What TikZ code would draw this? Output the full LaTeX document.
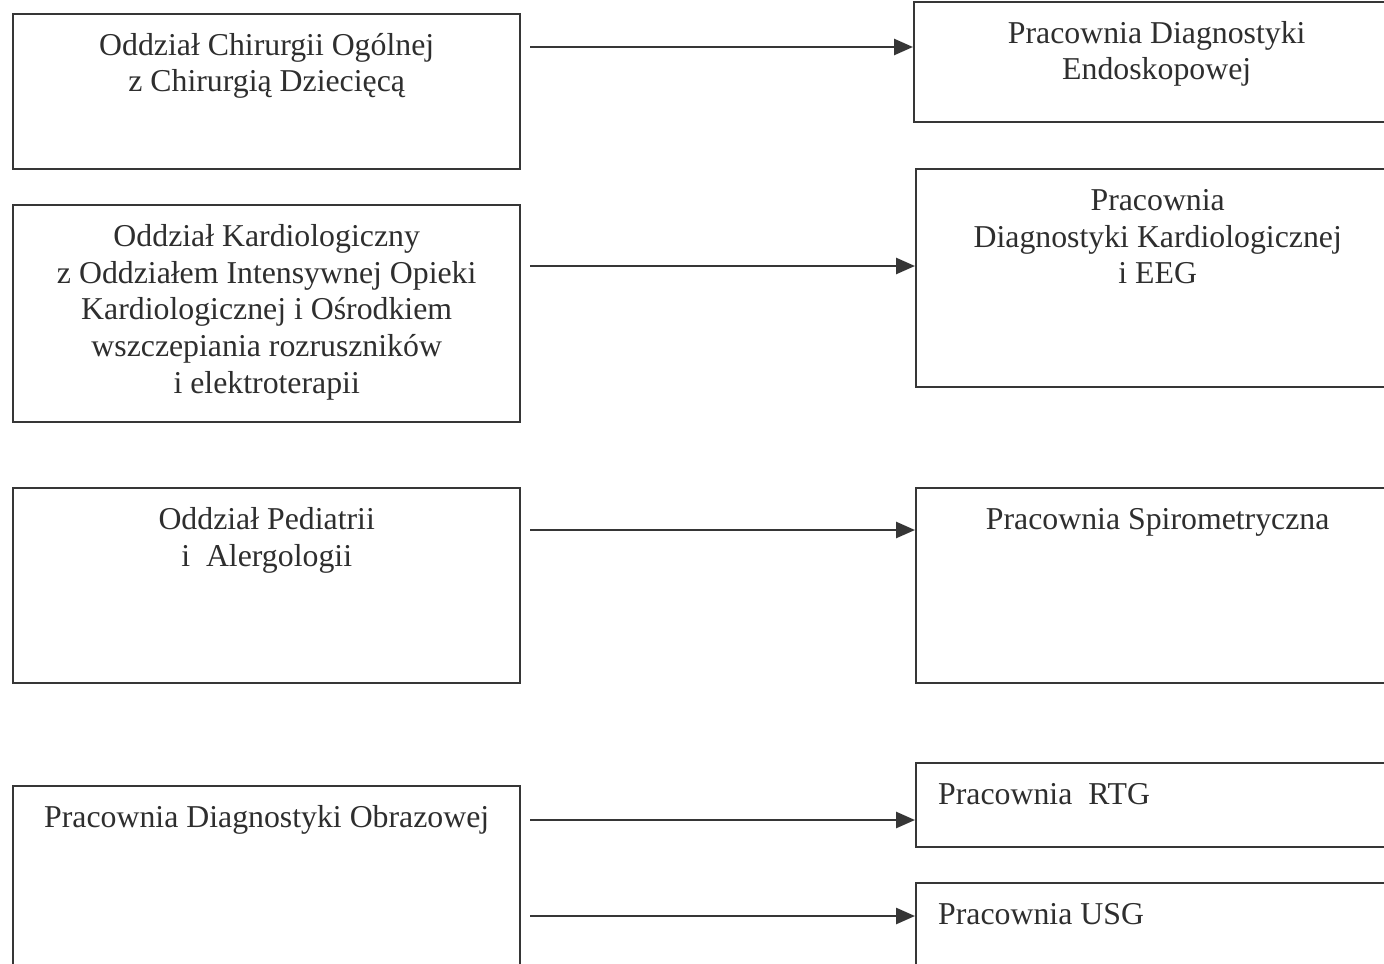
\documentclass[tikz,border=0pt]{standalone}
\usepackage{fontspec}
\setmainfont{Liberation Serif}
\usetikzlibrary{arrows.meta}
\newcommand{\ctext}[3]{\parbox[t][#2][t]{#1}{\centering\rule{0pt}{20.5pt}#3\par}}
\newcommand{\ltext}[3]{\parbox[t][#2][t]{#1}{\raggedright\hspace*{11pt}\rule{0pt}{20.5pt}#3\par}}
\definecolor{ink}{HTML}{2E2E2E}
\definecolor{rule}{HTML}{363636}
\begin{document}
\begin{tikzpicture}[x=0.5pt,y=-0.5pt,
  box/.style={draw=rule, line width=1.2pt, inner sep=0pt, anchor=north west, text=ink,
    font=\fontsize{15.9}{18.4}\selectfont},
  arr/.style={draw=rule, line width=1.3pt, shorten <=4.5pt, -{Triangle[length=9.5pt,width=8pt]}}]
\clip (0,0) rectangle (1384,963);
\fill[white] (0,0) rectangle (1384,963);
% left column
\node[box] (L1) at (12,13) {\ctext{253.5pt}{77.5pt}{Oddział Chirurgii Ogólnej\\ z Chirurgią Dziecięcą}};
\node[box] (L2) at (12,204) {\ctext{253.5pt}{108.5pt}{Oddział Kardiologiczny\\ z Oddziałem Intensywnej Opieki\\ Kardiologicznej i Ośrodkiem\\ wszczepiania rozruszników\\ i elektroterapii}};
\node[box] (L3) at (12,487) {\ctext{253.5pt}{97.5pt}{Oddział Pediatrii\\ i~~Alergologii}};
\node[box] (L4) at (12,785) {\ctext{253.5pt}{107.5pt}{Pracownia Diagnostyki Obrazowej}};
% right column
\node[box] (R1) at (913,1) {\ctext{242.5pt}{60pt}{Pracownia Diagnostyki\\ Endoskopowej}};
\node[box] (R2) at (915,168) {\ctext{241.5pt}{109pt}{Pracownia\\ Diagnostyki Kardiologicznej\\ i EEG}};
\node[box] (R3) at (915,487) {\ctext{241.5pt}{97.5pt}{Pracownia Spirometryczna}};
\node[box] (R4) at (915,762) {\ltext{241.5pt}{42pt}{Pracownia~~RTG}};
\node[box] (R5) at (915,882) {\ltext{241.5pt}{59pt}{Pracownia USG}};
% arrow levels
\coordinate (a1) at (0,47);
\coordinate (a2) at (0,266);
\coordinate (a3) at (0,530);
\coordinate (a4) at (0,820);
\coordinate (a5) at (0,916);
\draw[arr] (L1.east |- a1) -- (R1.west |- a1);
\draw[arr] (L2.east |- a2) -- (R2.west |- a2);
\draw[arr] (L3.east |- a3) -- (R3.west |- a3);
\draw[arr] (L4.east |- a4) -- (R4.west |- a4);
\draw[arr] (L4.east |- a5) -- (R5.west |- a5);
\end{tikzpicture}
\end{document}
